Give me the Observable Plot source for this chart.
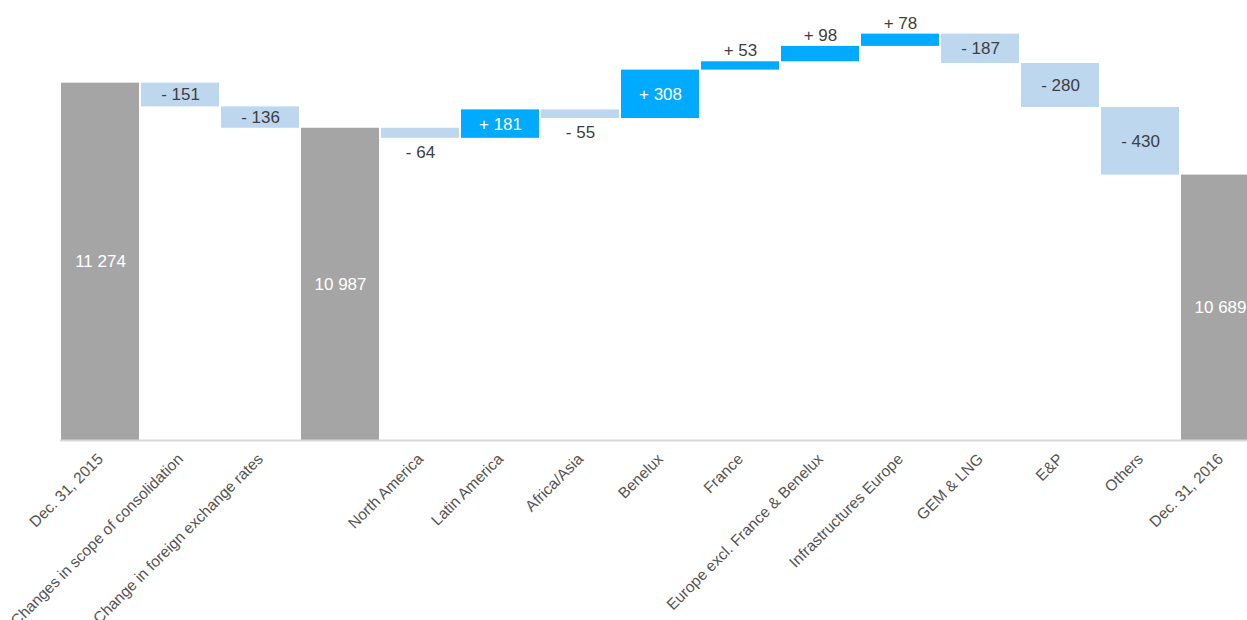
<!DOCTYPE html>
<html>
<head>
<meta charset="utf-8">
<script src="https://cdn.jsdelivr.net/npm/d3@7"></script>
<script src="https://cdn.jsdelivr.net/npm/@observablehq/plot@0.6"></script>
<style>
  html, body { margin: 0; padding: 0; background: #fff; overflow: hidden; }
  #wrap { width: 1247px; height: 620px; overflow: hidden; }
  #wrap svg { max-width: none !important; }
</style>
</head>
<body>
<div id="wrap"></div>
<script>
const categories = [
  "Dec. 31, 2015",
  "Changes in scope of consolidation",
  "Change in foreign exchange rates",
  "",
  "North America",
  "Latin America",
  "Africa/Asia",
  "Benelux",
  "France",
  "Europe excl. France & Benelux",
  "Infrastructures Europe",
  "GEM & LNG",
  "E&P",
  "Others",
  "Dec. 31, 2016"
];
const values = [11274, -151, -136, 10987, -64, 181, -55, 308, 53, 98, 78, -187, -280, -430, 10689];
const kinds = ["total", "delta", "delta", "total", "delta", "delta", "delta", "delta", "delta", "delta", "delta", "delta", "delta", "delta", "total"];
const yDomain = [9000, 11800];

const colors = {total: "#a5a5a5", up: "#00aaff", down: "#bdd7ee"};

// build waterfall rows
let running = 0;
const rows = categories.map((c, i) => {
  const v = values[i];
  let start, end, kind;
  if (kinds[i] === "total") {
    start = yDomain[0]; end = v; running = v; kind = "total";
  } else {
    start = running; end = running + v; running = end; kind = v >= 0 ? "up" : "down";
  }
  return {key: c === "" ? " " : c, value: v, start, end, kind, lo: Math.min(start, end), hi: Math.max(start, end)};
});

const fmtTotal = v => d3.format(",")(v).replace(/,/g, " ");
const fmtDelta = v => (v >= 0 ? "+ " : "- ") + Math.abs(v);

const labels = rows.map(r => {
  if (r.kind === "total") return {key: r.key, y: (r.lo + r.hi) / 2, text: fmtTotal(r.value), fill: "#ffffff", pos: "in"};
  const inside = Math.abs(r.value) >= 100;
  if (inside) return {key: r.key, y: (r.lo + r.hi) / 2, text: fmtDelta(r.value), fill: r.kind === "up" ? "#ffffff" : "#404040", pos: "in"};
  if (r.kind === "up") return {key: r.key, y: r.hi, text: fmtDelta(r.value), fill: "#404040", pos: "above"};
  return {key: r.key, y: r.lo, text: fmtDelta(r.value), fill: "#404040", pos: "below"};
});

const chart = Plot.plot({
  width: 1260,
  height: 620,
  marginLeft: 60,
  marginRight: 0,
  marginTop: 0,
  marginBottom: 180,
  style: {fontFamily: "'Liberation Sans', Arial, sans-serif", background: "#fff", maxWidth: "none"},
  x: {domain: rows.map(r => r.key), paddingInner: 0.025, paddingOuter: 0.0125, axis: null},
  y: {domain: yDomain, axis: null},
  marks: [
    Plot.barY(rows, {x: "key", y1: "lo", y2: "hi", fill: d => colors[d.kind]}),
    Plot.ruleY([yDomain[0]], {stroke: "#d9d9d9", strokeWidth: 2}),
    Plot.text(labels.filter(d => d.pos === "in"), {x: "key", y: "y", text: "text", fill: "fill", fontSize: 17}),
    Plot.text(labels.filter(d => d.pos === "above"), {x: "key", y: "y", text: "text", fill: "fill", fontSize: 17, dy: -11}),
    Plot.text(labels.filter(d => d.pos === "below"), {x: "key", y: "y", text: "text", fill: "fill", fontSize: 17, dy: 14}),
    Plot.axisX({domain: rows.map(r => r.key), label: null, tickRotate: -45, tickSize: 0, tickPadding: 16, dx: 0, fontSize: 15.5, fill: "#555"})
  ]
});
document.getElementById("wrap").appendChild(chart);
</script>
</body>
</html>
